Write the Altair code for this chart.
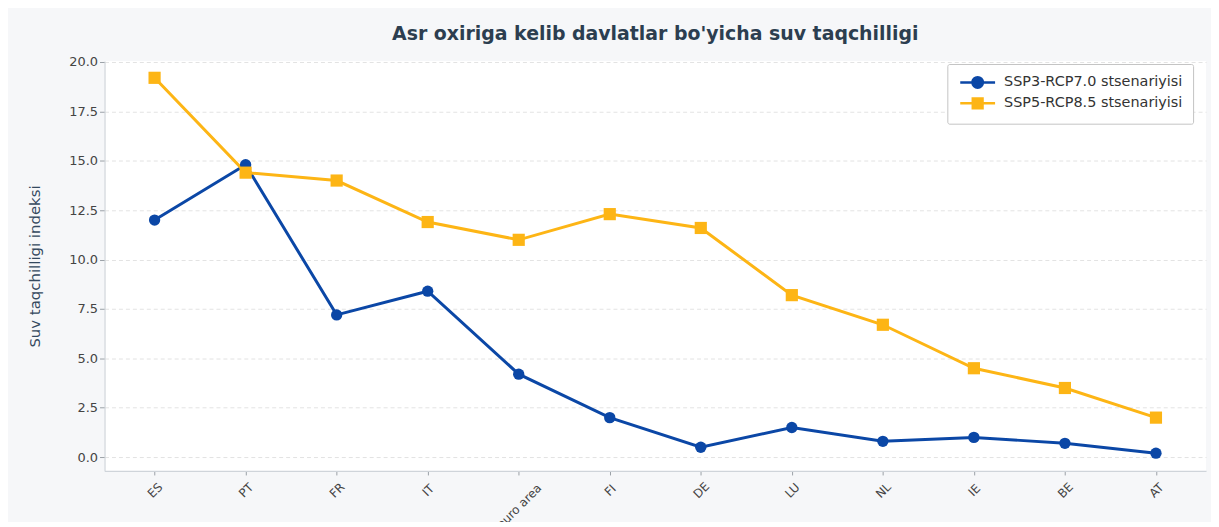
import altair as alt
import pandas as pd

countries = ["ES", "PT", "FR", "IT", "euro area", "FI", "DE", "LU", "NL", "IE", "BE", "AT"]
ssp3 = [12.0, 14.8, 7.2, 8.4, 4.2, 2.0, 0.5, 1.5, 0.8, 1.0, 0.7, 0.2]
ssp5 = [19.2, 14.4, 14.0, 11.9, 11.0, 12.3, 11.6, 8.2, 6.7, 4.5, 3.5, 2.0]
series_names = ["SSP3-RCP7.0 stsenariyisi", "SSP5-RCP8.5 stsenariyisi"]
y_ticks = [0.0, 2.5, 5.0, 7.5, 10.0, 12.5, 15.0, 17.5, 20.0]
colors = ["#0b47a6", "#fdb515"]

rows = []
for c, v in zip(countries, ssp3):
    rows.append({"country": c, "series": series_names[0], "value": v})
for c, v in zip(countries, ssp5):
    rows.append({"country": c, "series": series_names[1], "value": v})
df = pd.DataFrame(rows)

FONT = "DejaVu Sans"

x_enc = alt.X(
    "country:N",
    sort=countries,
    scale=alt.Scale(type="point", padding=0.55),
    axis=alt.Axis(
        title=None, labelAngle=-45, labelAlign="center", labelBaseline="middle",
        grid=False, tickSize=4, labelFontSize=12,
        labelPadding={"condition": {"test": "datum.value === 'euro area'", "value": 31}, "value": 15},
    ),
)
y_enc = alt.Y(
    "value:Q",
    scale=alt.Scale(domain=[-0.7, 20.05], nice=False, zero=False),
    axis=alt.Axis(
        title="Suv taqchilligi indeksi", values=y_ticks, format=".1f",
        grid=True, gridDash=[4, 3], gridColor="#e3e3e3", tickSize=5,
        labelFontSize=13, titleFontSize=15, titleFontWeight="normal",
        titleColor="#34495e", titlePadding=26,
    ),
)
# data-driven domain (sorted) so this hidden legend does not merge with the visible one
color_scale = alt.Scale(range=colors)

line = alt.Chart(df).mark_line(strokeWidth=3).encode(
    x=x_enc, y=y_enc,
    color=alt.Color("series:N", scale=color_scale, legend=None),
)
pts_circle = alt.Chart(df).transform_filter(
    alt.datum.series == series_names[0]
).mark_point(filled=True, size=130, opacity=1, shape="circle").encode(
    x=x_enc, y=y_enc,
    color=alt.Color("series:N", scale=color_scale, legend=None),
)
pts_square = alt.Chart(df).transform_filter(
    alt.datum.series == series_names[1]
).mark_point(filled=True, size=150, opacity=1, shape="square").encode(
    x=x_enc, y=y_enc,
    color=alt.Color("series:N", scale=color_scale, legend=None),
)

circ_path = "M-2.5,0L2.5,0M-0.75,0A0.75,0.75,0,1,0,0.75,0A0.75,0.75,0,1,0,-0.75,0Z"
sq_path = "M-2.5,0L2.5,0M-0.7,-0.7L0.7,-0.7L0.7,0.7L-0.7,0.7Z"


def make_leg():
    return alt.Legend(
        orient="none", legendX=847, legendY=3, symbolSize=196, symbolOpacity=1,
        symbolOffset=12, labelOffset=18, labelFontSize=14.5,
        symbolStrokeWidth=2.5,
        labelColor="#333333", labelFont=FONT, labelLimit=400, rowPadding=0,
        padding=10, fillColor="white", strokeColor="#c4c4c4", cornerRadius=2,
    )


legend_layer = alt.Chart(df).mark_point(opacity=0, filled=True, strokeWidth=2.5).encode(
    x=x_enc, y=y_enc,
    fill=alt.Fill("series:N", scale=alt.Scale(domain=series_names, range=colors), legend=make_leg(), title=None),
    stroke=alt.Stroke("series:N", scale=alt.Scale(domain=series_names, range=colors), legend=make_leg(), title=None),
    shape=alt.Shape("series:N", scale=alt.Scale(domain=series_names, range=[circ_path, sq_path]), legend=make_leg(), title=None),
)

chart = alt.layer(line, pts_circle, pts_square, legend_layer).properties(
    width=1107,
    height=412,
    title=alt.TitleParams(
        "Asr oxiriga kelib davlatlar bo'yicha suv taqchilligi",
        fontSize=19, fontWeight="bold", color="#2c3e50", anchor="middle",
        offset=12, font=FONT,
    ),
    background="#f6f7f9",
    padding={"left": 97, "top": 52, "right": 5, "bottom": 50},
    autosize=alt.AutoSizeParams(type="none"),
).configure_view(
    fill="white", stroke=None
).configure_axis(
    labelFont=FONT, titleFont=FONT, labelColor="#444444",
    domainColor="#cfd4da", tickColor="#9aa0a6", domainWidth=1.2,
)

chart.save("out.html", embed_options={"renderer": "svg", "actions": False})
